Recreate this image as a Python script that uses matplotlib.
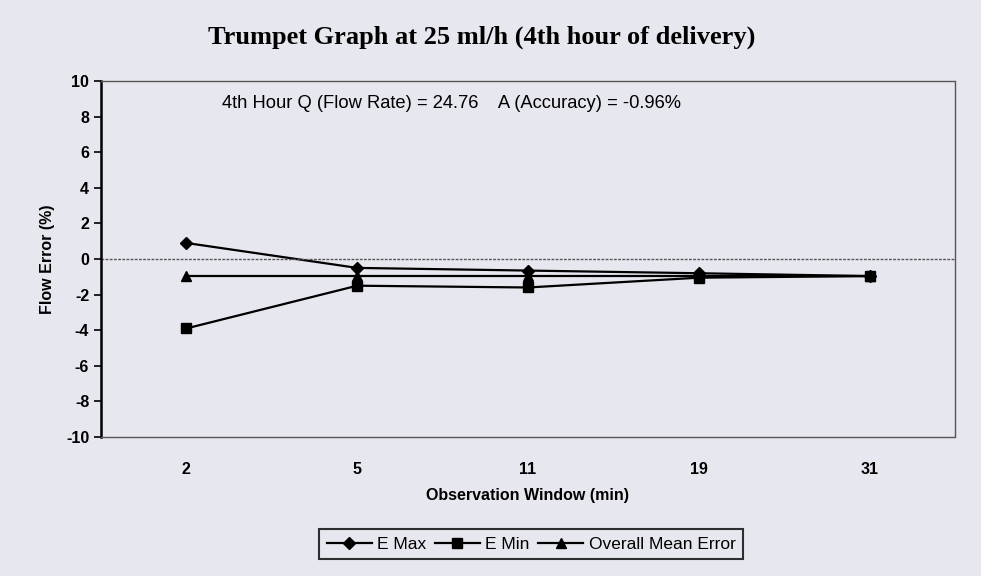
import matplotlib.pyplot as plt
from matplotlib.lines import Line2D

plt.rcParams["axes.unicode_minus"] = False

# observation windows (min) and flow errors (%)
windows = ["2", "5", "11", "19", "31"]
e_max = [0.9, -0.5, -0.65, -0.8, -0.96]
e_min = [-3.9, -1.5, -1.6, -1.05, -0.96]
mean_err = [-0.96, -0.96, -0.96, -0.96, -0.96]

bg = "#e7e7ef"
fig = plt.figure(figsize=(9.81, 5.76), dpi=100, facecolor=bg)
ax = fig.add_axes([101 / 981, 1 - 437 / 576, 854 / 981, 356 / 576])
ax.set_facecolor(bg)

x = list(range(len(windows)))
ax.plot(x, e_max, color="black", lw=1.6, marker="D", ms=6, label="E Max")
ax.plot(x, e_min, color="black", lw=1.6, marker="s", ms=7, label="E Min")
ax.plot(x, mean_err, color="black", lw=1.6, marker="^", ms=7, label="Overall Mean Error")
ax.axhline(0, color="#555555", lw=1.0, ls=(0, (2, 1)))

ax.set_xlim(-0.5, 4.5)
ax.set_ylim(-10, 10)
ax.set_yticks(range(-10, 11, 2))
ax.set_xticks(x)
ax.set_xticklabels(windows)
ax.tick_params(axis="x", length=0, pad=18)
ax.tick_params(axis="y", direction="out", length=5, width=1.2)
for lab in ax.get_xticklabels() + ax.get_yticklabels():
    lab.set_fontfamily("Liberation Sans")
    lab.set_fontweight("bold")
    lab.set_fontsize(11.5)

for s in ["top", "right", "bottom"]:
    ax.spines[s].set_color("#555555")
    ax.spines[s].set_linestyle((0, (2, 1)))
    ax.spines[s].set_linewidth(1.0)
ax.spines["left"].set_linewidth(1.8)
ax.spines["left"].set_color("black")

ax.set_xlabel("Observation Window (min)", fontfamily="Liberation Sans",
              fontweight="bold", fontsize=11.5, labelpad=8)
ax.set_ylabel("Flow Error (%)", fontfamily="Liberation Sans",
              fontweight="bold", fontsize=11.5, labelpad=8)

fig.text(482 / 981, 1 - 37 / 576, "Trumpet Graph at 25 ml/h (4th hour of delivery)",
         ha="center", va="center", fontfamily="Liberation Serif",
         fontweight="bold", fontsize=19)
ax.text(222 / 981, 1 - 104 / 576, "4th Hour Q (Flow Rate) = 24.76    A (Accuracy) = -0.96%",
        transform=fig.transFigure, ha="left", va="center",
        fontfamily="Liberation Sans", fontsize=13.2)

handles = [
    Line2D([], [], color="black", lw=1.6, marker="D", ms=6),
    Line2D([], [], color="black", lw=1.6, marker="s", ms=7),
    Line2D([], [], color="black", lw=1.6, marker="^", ms=7),
]
leg = fig.legend(handles, ["E Max", "E Min", "Overall Mean Error"],
                 loc="center", bbox_to_anchor=(531 / 981, 1 - 544 / 576),
                 ncol=3, frameon=True, fancybox=False, handlelength=2.6,
                 handletextpad=0.3, columnspacing=0.5, borderpad=0.45,
                 prop={"family": "Liberation Sans", "size": 12.5})
leg.get_frame().set_edgecolor("black")
leg.get_frame().set_linewidth(1.5)
leg.get_frame().set_facecolor(bg)

fig.savefig("out.png", dpi=100, facecolor=bg)
